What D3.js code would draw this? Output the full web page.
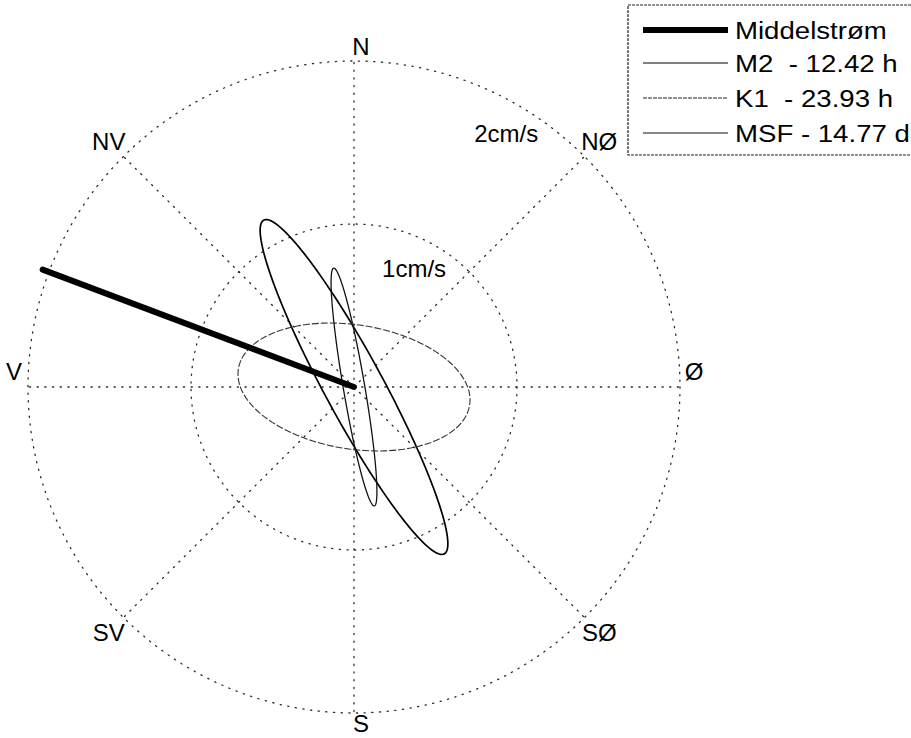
<!DOCTYPE html>
<html>
<head>
<meta charset="utf-8">
<script src="https://cdn.jsdelivr.net/npm/d3@7"></script>
<style>
  html, body { margin: 0; padding: 0; background: #fff; }
  svg { display: block; }
  text { font-family: "Liberation Sans", Arial, sans-serif; fill: #000; white-space: pre; }
</style>
</head>
<body>
<svg id="chart" width="911" height="738"></svg>
<script>
// ---------------- data ----------------
const rings = [1, 2];                       // cm/s
const ringLabels = ["1cm/s", "2cm/s"];
const bearings = [0, 45, 90, 135, 180, 225, 270, 315];   // degrees from north, clockwise
const compassLabels = ["N", "NØ", "Ø", "SØ", "S", "SV", "V", "NV"];

// mean current (east, north components, cm/s)
const meanCurrentUV = [-1.91, 0.72];

// tidal current ellipses
const constituents = ["M2", "K1", "MSF"];
const semiMajor = [1.164, 0.74, 0.718];      // cm/s
const semiMinor = [0.18, 0.066, 0.381];      // cm/s
const inclination = [118.4, 99.7, 171.1];   // degrees, counter-clockwise from east

const legendLabels = ["Middelstrøm", "M2  - 12.42 h", "K1  - 23.93 h", "MSF - 14.77 d"];

// ---------------- layout ----------------
const svg = d3.select("#chart");
const cx = 354, cy = 387;
const r = d3.scaleLinear().domain([0, 2]).range([0, 326]);
const rmax = 2;

function xy(east, north) { return [cx + r(east), cy - r(north)]; }
function polarBearing(bearingDeg, rad) {
  const a = bearingDeg * Math.PI / 180;
  return xy(rad * Math.sin(a), rad * Math.cos(a));
}

const grid = svg.append("g");
const dotStyle = g => g.attr("fill", "none").attr("stroke", "#2a2a2a")
  .attr("stroke-width", 1.3).attr("stroke-dasharray", "1.2,6.5").attr("stroke-linecap", "round");

// spokes
grid.selectAll("line.spoke").data(bearings).join("line")
  .attr("class", "spoke")
  .attr("x1", cx).attr("y1", cy)
  .attr("x2", d => polarBearing(d, rmax)[0])
  .attr("y2", d => polarBearing(d, rmax)[1])
  .call(dotStyle);

// rings
grid.selectAll("circle.ring").data(rings).join("circle")
  .attr("class", "ring")
  .attr("cx", cx).attr("cy", cy).attr("r", d => r(d))
  .call(dotStyle);

// ring labels
const ringLabelAngle = 55.6 * Math.PI / 180;
grid.selectAll("text.ringlab").data(rings).join("text")
  .attr("class", "ringlab")
  .attr("x", d => cx + r(d) * Math.cos(ringLabelAngle) - 32)
  .attr("y", d => cy - r(d) * Math.sin(ringLabelAngle) + 16)
  .attr("dy", "0.35em")
  .attr("text-anchor", "middle")
  .attr("font-size", 24)
  .text((d, i) => ringLabels[i]);

// compass labels
grid.selectAll("text.compass").data(bearings).join("text")
  .attr("class", "compass")
  .attr("x", d => {
    const diag = d % 90 !== 0;
    const p = polarBearing(d, rmax * (diag ? 1.064 : (d === 180 ? 1.033 : 1.043)));
    return p[0] + (!diag && (d === 0 || d === 180) ? 7 : 0);
  })
  .attr("y", d => {
    const diag = d % 90 !== 0;
    const p = polarBearing(d, rmax * (diag ? 1.064 : (d === 180 ? 1.033 : 1.043)));
    return p[1] + (!diag && (d === 90 || d === 270) ? -15 : 0);
  })
  .attr("dy", "0.35em")
  .attr("text-anchor", "middle")
  .attr("font-size", 24)
  .text((d, i) => compassLabels[i]);

// ellipses
const ellipseStyles = [
  { stroke: "#000", width: 1.7, dash: null },
  { stroke: "#111", width: 1.3, dash: null },
  { stroke: "#333", width: 1.1, dash: "7,2" }
];
const line = d3.line();
const tSteps = d3.range(0, 361, 2).map(t => t * Math.PI / 180);
constituents.forEach((name, i) => {
  const a = semiMajor[i], b = semiMinor[i], inc = inclination[i] * Math.PI / 180;
  const pts = tSteps.map(t => {
    const xp = a * Math.cos(t), yp = b * Math.sin(t);
    const e = xp * Math.cos(inc) - yp * Math.sin(inc);
    const n = xp * Math.sin(inc) + yp * Math.cos(inc);
    return xy(e, n);
  });
  svg.append("path")
    .attr("d", line(pts))
    .attr("fill", "none")
    .attr("stroke", ellipseStyles[i].stroke)
    .attr("stroke-width", ellipseStyles[i].width)
    .attr("stroke-dasharray", ellipseStyles[i].dash);
});

// mean current
const mEnd = xy(meanCurrentUV[0], meanCurrentUV[1]);
svg.append("line")
  .attr("x1", cx).attr("y1", cy)
  .attr("x2", mEnd[0]).attr("y2", mEnd[1])
  .attr("stroke", "#000").attr("stroke-width", 6).attr("stroke-linecap", "round");

// legend
const lg = svg.append("g").attr("transform", "translate(628,5)");
lg.append("rect")
  .attr("x", 0).attr("y", 0).attr("width", 300).attr("height", 150)
  .attr("fill", "#fff").attr("stroke", "#222").attr("stroke-width", 1.2)
  .attr("stroke-dasharray", "3,1");
const legendStyles = [
  { width: 6, stroke: "#000", dash: null },
  { width: 1.2, stroke: "#000", dash: null },
  { width: 1.2, stroke: "#222", dash: "4,1" },
  { width: 1.2, stroke: "#111", dash: null }
];
const rowY = [25, 58, 93, 128];
legendLabels.forEach((lab, i) => {
  lg.append("line")
    .attr("x1", 15).attr("x2", 100)
    .attr("y1", rowY[i]).attr("y2", rowY[i])
    .attr("stroke", legendStyles[i].stroke)
    .attr("stroke-width", legendStyles[i].width)
    .attr("stroke-dasharray", legendStyles[i].dash);
  lg.append("text")
    .attr("transform", `translate(107,${rowY[i] + 9}) scale(1.15,1)`)
    .attr("font-size", 24)
    .text(lab);
});
</script>
</body>
</html>
